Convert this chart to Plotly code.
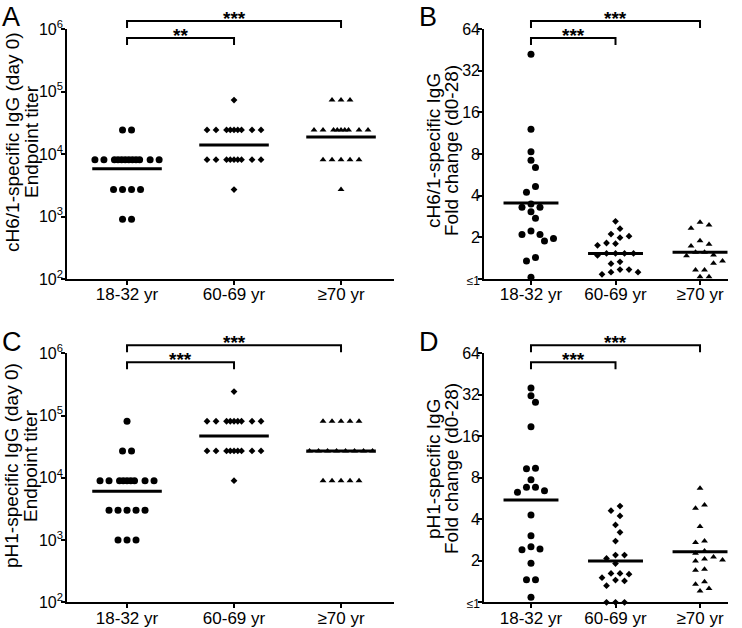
import math
import plotly.graph_objects as go

FONT = "Liberation Sans, Arial, sans-serif"
W, H = 742, 628

GROUPS = ["18-32 yr", "60-69 yr", "≥70 yr"]
SYMBOLS = ["circle", "diamond", "triangle-up"]
SIZES = [7, 5.2, 6]

# ---------------- data ----------------
# Panel A: cH6/1-specific IgG endpoint titer (day 0)
A_young = [24300, 24300,
           8100, 8100, 8100, 8100, 8100, 8100, 8100, 8100, 8100, 8100, 8100, 8100,
           2700, 2700, 2700, 2700,
           900, 900]
A_mid = [72900,
         24300, 24300, 24300, 24300, 24300, 24300, 24300, 24300, 24300,
         8100, 8100, 8100, 8100, 8100, 8100, 8100, 8100, 8100,
         2700]
A_old = [72900, 72900, 72900,
         24300, 24300, 24300, 24300, 24300, 24300, 24300, 24300, 24300,
         8100, 8100, 8100, 8100, 8100,
         2700]
A_mean = [5800, 13900, 18700]

# Panel B: cH6/1-specific IgG fold change (d0-28)
B_young = [42, 12.1, 8.3, 7.2, 6.4, 4.65, 4.23, 3.48, 3.30, 3.30, 3.06, 2.75,
           2.22, 2.10, 2.10, 1.96, 1.88, 1.43, 1.35, 1.03]
B_mid = [2.61, 2.31, 2.11, 2.04, 1.99, 1.82, 1.80, 1.75, 1.53, 1.53, 1.53, 1.53,
         1.48, 1.33, 1.29, 1.17, 1.17, 1.12, 1.12, 1.08]
B_old = [2.57, 2.46, 2.33, 1.89, 1.78, 1.73, 1.56, 1.56, 1.49, 1.47, 1.37, 1.35,
         1.33, 1.30, 1.16, 1.16, 1.04, 1.04]
B_mean = [3.54, 1.53, 1.56]

# Panel C: pH1-specific IgG endpoint titer (day 0)
C_young = [81000,
           27000, 27000,
           9000, 9000, 9000, 9000, 9000, 9000, 9000, 9000, 9000,
           3000, 3000, 3000, 3000, 3000,
           1000, 1000, 1000]
C_mid = [243000,
         81000, 81000, 81000, 81000, 81000, 81000, 81000, 81000, 81000,
         27000, 27000, 27000, 27000, 27000, 27000, 27000, 27000, 27000,
         9000]
C_old = [81000, 81000, 81000, 81000, 81000,
         27000, 27000, 27000, 27000, 27000, 27000, 27000, 27000,
         9000, 9000, 9000, 9000, 9000]
C_mean = [6100, 47000, 27000]

# Panel D: pH1-specific IgG fold change (d0-28)
D_young = [35.9, 31.5, 28.3, 18.8, 9.4, 9.3, 7.75, 6.82, 6.82, 6.45, 6.28, 4.30,
           3.04, 2.53, 2.44, 2.41, 1.92, 1.46, 1.46, 1.09]
D_mid = [4.99, 4.62, 4.23, 3.64, 3.22, 2.78, 2.20, 2.20, 2.08, 1.91, 1.62, 1.62,
         1.60, 1.51, 1.45, 1.43, 1.32, 1.0, 1.0, 1.0]
D_old = [6.71, 5.08, 4.81, 3.54, 2.78, 2.71, 2.36, 2.27, 2.13, 2.06, 2.03, 1.99,
         1.74, 1.71, 1.41, 1.35, 1.26, 1.21]
D_mean = [5.52, 1.99, 2.33]

TITER_TICKS = [100, 1000, 10000, 100000, 1000000]
TITER_LABELS = ["10<sup>2</sup>", "10<sup>3</sup>", "10<sup>4</sup>", "10<sup>5</sup>", "10<sup>6</sup>"]
FOLD_TICKS = [1, 2, 4, 8, 16, 32, 64]
FOLD_LABELS = ['<span style="font-size:12px">≤1</span>', "2", "4", "8", "16", "32", "64"]

PANELS = [
    dict(letter="A", groups=[A_young, A_mid, A_old], means=A_mean,
         title=["cH6/1-specific IgG (day 0)", "Endpoint titer"], tpos=((12, 31), 142),
         ticks=TITER_TICKS, labels=TITER_LABELS, yr=(2, 6), kind="rows",
         xd=(67, 394), yd=(29, 279), xr=(-0.561, 2.495), stars=("**", "***"), lpos=(0, 0)),
    dict(letter="B", groups=[B_young, B_mid, B_old], means=B_mean,
         title=["cH6/1-specific IgG", "Fold change (d0-28)"], tpos=((433, 451), 151),
         ticks=FOLD_TICKS, labels=FOLD_LABELS, yr=(0, math.log10(64)), kind="swarm",
         xd=(484, 728), yd=(29, 279), xr=(-0.556, 2.331), stars=("***", "***"), lpos=(417, 0)),
    dict(letter="C", groups=[C_young, C_mid, C_old], means=C_mean,
         title=["pH1-specific IgG (day 0)", "Endpoint titer"], tpos=((12, 31), 466),
         ticks=TITER_TICKS, labels=TITER_LABELS, yr=(2, 6), kind="rows",
         xd=(67, 394), yd=(353.3, 602.3), xr=(-0.561, 2.495), stars=("***", "***"), lpos=(0, 325)),
    dict(letter="D", groups=[D_young, D_mid, D_old], means=D_mean,
         title=["pH1-specific IgG", "Fold change (d0-28)"], tpos=((433, 451), 469),
         ticks=FOLD_TICKS, labels=FOLD_LABELS, yr=(0, math.log10(64)), kind="swarm",
         xd=(484, 728), yd=(353.3, 602.3), xr=(-0.556, 2.331), stars=("***", "***"), lpos=(417, 325)),
]


# ---------------- layout helpers (pixel-space dot arrangement) ----------------
def row_offsets(n, gap=9.0):
    if n <= 8:
        return [(j - (n - 1) / 2) * gap for j in range(n)]
    half = 27 + 1.7 * (n - 9)
    inner = n - 4
    ih = half - 2 * gap - 1.5
    offs = [-half, -half + gap]
    offs += [-ih + 2 * ih * j / (inner - 1) for j in range(inner)]
    offs += [half - gap, half]
    return offs


def rows_layout(vals):
    xs = [0.0] * len(vals)
    groups = {}
    for i, v in enumerate(vals):
        groups.setdefault(v, []).append(i)
    for v, idx in groups.items():
        for i, o in zip(idx, row_offsets(len(idx))):
            xs[i] = o
    return xs


def swarm_layout(ypx, step=4.5, d=7.5, tol=6.0):
    idx = sorted(range(len(ypx)), key=lambda i: ypx[i])
    blocks = []
    for i in idx:
        if blocks and ypx[i] - ypx[blocks[-1][0]] <= tol:
            blocks[-1].append(i)
        else:
            blocks.append([i])
    placed = []
    xs = [0.0] * len(ypx)
    for b in blocks:
        m = len(b)
        if m % 2 == 1:
            base = [0.0]
            for k in range(1, (m - 1) // 2 + 1):
                base += [k * 2 * step, -k * 2 * step]
        else:
            base = []
            for k in range(m // 2):
                base += [(2 * k + 1) * step, -(2 * k + 1) * step]
        shifts = [0.0] + [s * j * step for j in range(1, 40) for s in (1, -1)]
        cand = base
        for c in shifts:
            cand = [p + c for p in base]
            ok = all((cx - px) ** 2 + (ypx[i] - py) ** 2 >= d * d
                     for cx, i in zip(cand, b) for px, py in placed)
            if ok:
                break
        for cx, i in zip(cand, b):
            xs[i] = cx
            placed.append((cx, ypx[i]))
    return xs


fig = go.Figure()
layout = dict(template="none", width=W, height=H, margin=dict(l=0, r=0, t=0, b=0, pad=0),
              paper_bgcolor="white", plot_bgcolor="white", showlegend=False,
              font=dict(family=FONT, color="black"))
shapes, annotations = [], []

for p_i, P in enumerate(PANELS):
    n = "" if p_i == 0 else str(p_i + 1)
    xa, ya = "x" + n, "y" + n
    x0p, x1p = P["xd"]
    y0p, y1p = P["yd"]
    px_per_x = (x1p - x0p) / (P["xr"][1] - P["xr"][0])
    px_per_ly = (y1p - y0p) / (P["yr"][1] - P["yr"][0])

    for g, vals in enumerate(P["groups"]):
        m = P["means"][g]
        fig.add_trace(go.Scatter(x=[g - 0.325, g + 0.325], y=[m, m], mode="lines",
                                 line=dict(color="black", width=3), xaxis=xa, yaxis=ya,
                                 hoverinfo="skip"))
        if P["kind"] == "rows":
            offs = rows_layout(vals)
        else:
            ypx = [-(math.log10(v)) * px_per_ly for v in vals]
            offs = swarm_layout(ypx)
        xs = [g + o / px_per_x for o in offs]
        fig.add_trace(go.Scatter(x=xs, y=vals, mode="markers", cliponaxis=False,
                                 marker=dict(symbol=SYMBOLS[g], size=SIZES[g], color="black",
                                             line=dict(width=0)),
                                 xaxis=xa, yaxis=ya))

    common = dict(showline=True, linecolor="black", linewidth=1.6, ticks="outside",
                  ticklen=5, tickwidth=1.6, tickcolor="black", showgrid=False,
                  zeroline=False, automargin=False,
                  tickfont=dict(family=FONT, size=17, color="black"))
    layout["xaxis" + n] = dict(common, domain=[x0p / W, x1p / W], range=list(P["xr"]),
                               tickvals=[0, 1, 2], ticktext=GROUPS, anchor=ya,
                               ticklen=4, ticklabelstandoff=-5)
    layout["yaxis" + n] = dict(common, domain=[1 - y1p / H, 1 - y0p / H], type="log",
                               range=list(P["yr"]), tickvals=P["ticks"], ticktext=P["labels"],
                               anchor=xa, ticklen=4, ticklabelstandoff=-5,
                               tickfont=dict(family=FONT, size=16, color="black"))

    # two-line y-axis title
    (tx1, tx2), ty = P["tpos"]
    for line, tx in zip(P["title"], (tx1, tx2)):
        annotations.append(dict(x=tx / W, y=1 - ty / H, xref="paper", yref="paper",
                                xanchor="center", yanchor="middle", textangle=-90,
                                text=line, showarrow=False,
                                font=dict(family=FONT, size=19, color="black")))

    # significance brackets
    top = 1 - (y0p - 8) / H
    low = 1 - (y0p + 9) / H
    drop = 7 / H
    for (xa0, xa1, yb, star) in [(0, 1, low, P["stars"][0]), (0, 2, top, P["stars"][1])]:
        shapes.append(dict(type="path", xref=xa, yref="paper",
                           path=f"M {xa0},{yb - drop} L {xa0},{yb} L {xa1},{yb} L {xa1},{yb - drop}",
                           line=dict(color="black", width=2)))
        annotations.append(dict(x=(xa0 + xa1) / 2, y=yb, xref=xa, yref="paper",
                                text="<b>" + star + "</b>", showarrow=False, yanchor="bottom",
                                yshift=-10, font=dict(family=FONT, size=19, color="black")))

    # panel letter
    lx, ly = P["lpos"]
    annotations.append(dict(x=lx / W, y=1 - ly / H, xref="paper", yref="paper",
                            xanchor="left", yanchor="top", text=P["letter"], showarrow=False,
                            font=dict(family=FONT, size=27, color="black")))

layout["shapes"] = shapes
layout["annotations"] = annotations
fig.update_layout(**layout)
fig.write_html("out.html", config={"displayModeBar": False},
               post_script="document.body.style.margin='0px';")
